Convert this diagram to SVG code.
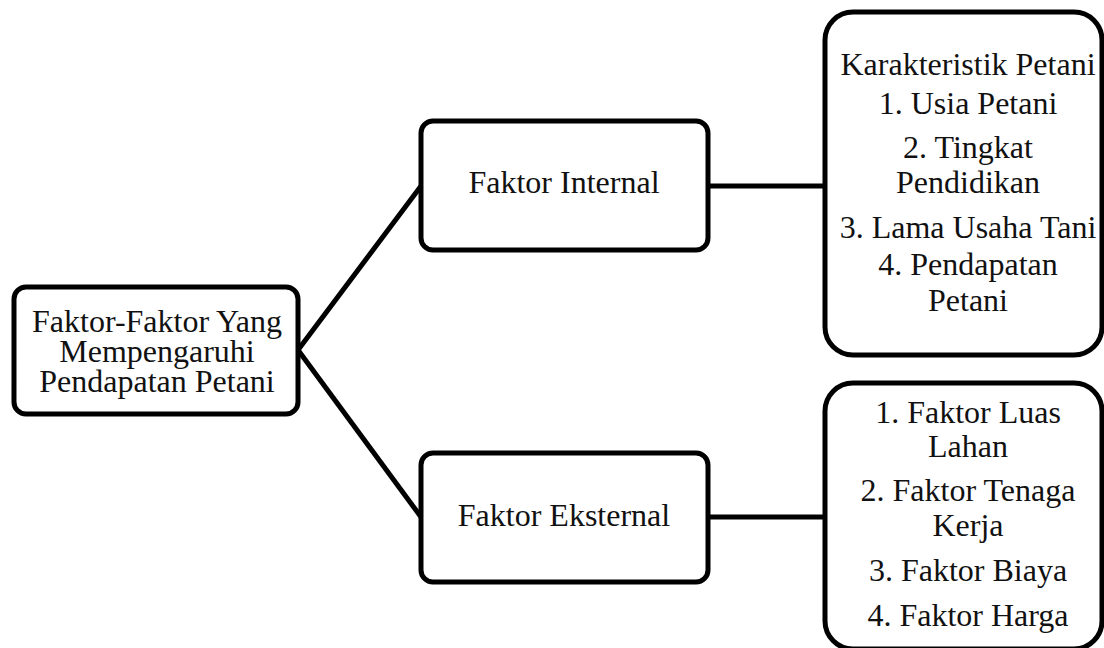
<svg xmlns="http://www.w3.org/2000/svg" width="1104" height="648" viewBox="0 0 1104 648">
<style>
.box{fill:#fff;stroke:#000;stroke-width:5}
.t{font-family:"Liberation Serif","DejaVu Serif",serif;font-size:32px;fill:#111;text-anchor:middle}
.c{stroke:#000;stroke-width:5;fill:none}
</style>
<rect width="1104" height="648" fill="#fff"/>
<g id="connectors">
<line class="c" x1="298" y1="350" x2="421" y2="186"/>
<line class="c" x1="298" y1="350" x2="421" y2="517"/>
<line class="c" x1="708" y1="186" x2="825" y2="186"/>
<line class="c" x1="708" y1="517" x2="825" y2="517"/>
</g>
<g id="root">
<rect class="box" x="14" y="287" width="284" height="127" rx="12"/>
<text class="t" x="157" y="332">Faktor-Faktor Yang</text>
<text class="t" x="157" y="362">Mempengaruhi</text>
<text class="t" x="157" y="392">Pendapatan Petani</text>
</g>
<g id="internal">
<rect class="box" x="421" y="121" width="287" height="129" rx="12"/>
<text class="t" x="564" y="193">Faktor Internal</text>
</g>
<g id="eksternal">
<rect class="box" x="421" y="453" width="287" height="129" rx="12"/>
<text class="t" x="564" y="526">Faktor Eksternal</text>
</g>
<g id="internal-list">
<rect class="box" x="825" y="12" width="277" height="343" rx="28"/>
<text class="t" x="968" y="75">Karakteristik Petani</text>
<text class="t" x="968" y="114">1. Usia Petani</text>
<text class="t" x="968" y="158">2. Tingkat</text>
<text class="t" x="968" y="193">Pendidikan</text>
<text class="t" x="968" y="238">3. Lama Usaha Tani</text>
<text class="t" x="968" y="275">4. Pendapatan</text>
<text class="t" x="968" y="311">Petani</text>
</g>
<g id="eksternal-list">
<rect class="box" x="825" y="383" width="277" height="266" rx="28"/>
<text class="t" x="968" y="423">1. Faktor Luas</text>
<text class="t" x="968" y="457">Lahan</text>
<text class="t" x="968" y="501">2. Faktor Tenaga</text>
<text class="t" x="968" y="536">Kerja</text>
<text class="t" x="968" y="581">3. Faktor Biaya</text>
<text class="t" x="968" y="626">4. Faktor Harga</text>
</g>
</svg>
